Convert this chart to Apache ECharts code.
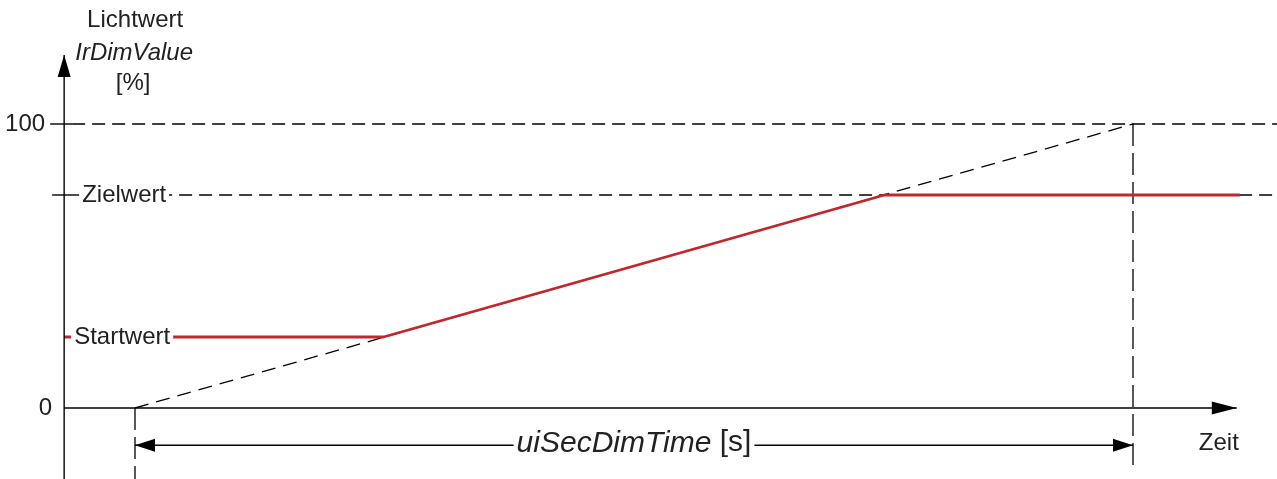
<!DOCTYPE html>
<html>
<head>
<meta charset="utf-8">
<script src="https://cdn.jsdelivr.net/npm/echarts@6/dist/echarts.min.js"></script>
<style>
html,body{margin:0;padding:0;background:#fff;}
#c{width:1277px;height:479px;}
</style>
</head>
<body>
<div id="c"></div>
<script>
// ---------- data ----------
const yTickValues = [0, 100];
const yTickLabels = ['0', '100'];
const levelNames = ['Startwert', 'Zielwert'];
const levelValues = [25, 75];
const redTimes = [-7.1, 24.9, 75.1, 110.7];
const redValues = [25, 25, 75, 75];
const rampTimes = [0, 100];
const rampValues = [0, 100];
const dimTime = 100;
const yTitle = ['Lichtwert', 'IrDimValue', '[%]'];
const xTitle = 'Zeit';
const dimLabel = 'uiSecDimTime';
const dimUnit = '[s]';

// ---------- layout ----------
const X_MIN = -13.527, X_MAX = 114.429, Y_MIN = -25, Y_MAX = 143.662;
const AXIS_X = -7.1;        // time where the value axis stands
const AXIS_X_END = 110.4;   // tip of the time axis arrow
const AXIS_Y_TOP = 124.3;   // tip of the value axis arrow
const DIM_Y = -13.1;        // level of the dimension line
const DIM_BOTTOM = -21.8;   // lower end of dashed guide at dimTime
const TEXT = '#222222';
const RED = '#c1272d';
const FONT = 'Liberation Sans, Arial, sans-serif';

const chart = echarts.init(document.getElementById('c'));

function headShape(api, tipV, fromV, len, hw) {
  const t = api.coord(tipV), f = api.coord(fromV);
  const dx = t[0] - f[0], dy = t[1] - f[1];
  const L = Math.hypot(dx, dy) || 1;
  const ux = dx / L, uy = dy / L;
  const bx = t[0] - ux * len, by = t[1] - uy * len;
  return {
    type: 'polygon',
    shape: { points: [[t[0], t[1]], [bx - uy * hw, by + ux * hw], [bx + uy * hw, by - ux * hw]] },
    style: { fill: '#000' }
  };
}

// arrows: [x1, y1, x2, y2, bothEnds]
const arrowData = [
  [AXIS_X, 0, AXIS_X_END, 0, 0],
  [AXIS_X, Y_MIN, AXIS_X, AXIS_Y_TOP, 0],
  [0, DIM_Y, dimTime, DIM_Y, 1]
];

// short solid ticks on the value axis
const tickData = [
  [AXIS_X - 1.4, 100, AXIS_X + 0.8, 100],
  [AXIS_X - 1.2, levelValues[1], AXIS_X + 1.5, levelValues[1]]
];

// text labels
const labels = [];
labels.push({ t: yTickLabels[1], at: [AXIS_X, yTickValues[1]], dx: -19, dy: 0, align: 'right' });
labels.push({ t: yTickLabels[0], at: [AXIS_X, yTickValues[0]], dx: -12, dy: 0, align: 'right' });
labels.push({ t: levelNames[0], at: [AXIS_X, levelValues[0]], dx: 58, dy: 0, align: 'center', bg: true });
labels.push({ t: levelNames[1], at: [AXIS_X, levelValues[1]], dx: 60, dy: 0, align: 'center', bg: true });
labels.push({ t: yTitle[0], at: [AXIS_X, AXIS_Y_TOP], dx: 71, dy: -35, align: 'center' });
labels.push({ t: yTitle[1], at: [AXIS_X, AXIS_Y_TOP], dx: 70, dy: -2, align: 'center', italic: true });
labels.push({ t: yTitle[2], at: [AXIS_X, AXIS_Y_TOP], dx: 69, dy: 28, align: 'center' });
labels.push({ t: xTitle, at: [AXIS_X_END, 0], dx: -18, dy: 35, align: 'center' });
labels.push({ t: '{i|' + dimLabel + '} ' + dimUnit, at: [dimTime / 2, DIM_Y], dx: 0, dy: -2, align: 'center', bg: true, size: 30, rich: true });

const dashH = [13, 7], dashV = [22, 7], dashD = [14, 8];

function lineSeries(data, color, width, dash, z) {
  return {
    type: 'line', data: data, showSymbol: false, symbol: 'none', silent: true,
    animation: false, z: z || 2, clip: false,
    lineStyle: { color: color, width: width, type: dash || 'solid' }
  };
}

const option = {
  backgroundColor: '#fff',
  animation: false,
  grid: { left: 0, right: 0, top: 0, bottom: 0 },
  xAxis: { type: 'value', min: X_MIN, max: X_MAX, show: false },
  yAxis: { type: 'value', min: Y_MIN, max: Y_MAX, show: false },
  series: [
    // dashed guides
    lineSeries([[AXIS_X + 0.8, 100], [X_MAX, 100]], '#000', 1.3, dashH, 1),
    lineSeries([[AXIS_X + 1.5, levelValues[1]], [X_MAX, levelValues[1]]], '#000', 1.3, dashH, 1),
    lineSeries(rampTimes.map((t, i) => [t, rampValues[i]]), '#000', 1.3, dashD, 1),
    lineSeries([[0, 0], [0, Y_MIN]], '#000', 1.3, dashV, 1),
    lineSeries([[dimTime, 100], [dimTime, DIM_BOTTOM]], '#000', 1.3, dashV, 1),
    // red dimming curve
    lineSeries(redTimes.map((t, i) => [t, redValues[i]]), RED, 2.8, 'solid', 3),
    // ticks
    {
      type: 'custom', silent: true, animation: false, z: 4,
      data: tickData,
      renderItem: function (params, api) {
        const p = api.coord([api.value(0), api.value(1)]);
        const q = api.coord([api.value(2), api.value(3)]);
        return { type: 'line', shape: { x1: p[0], y1: p[1], x2: q[0], y2: q[1] }, style: { stroke: '#000', lineWidth: 1.4 } };
      }
    },
    // arrows
    {
      type: 'custom', silent: true, animation: false, z: 4,
      data: arrowData,
      renderItem: function (params, api) {
        const a = [api.value(0), api.value(1)], b = [api.value(2), api.value(3)];
        const p = api.coord(a), q = api.coord(b);
        const kids = [
          { type: 'line', shape: { x1: p[0], y1: p[1], x2: q[0], y2: q[1] }, style: { stroke: '#000', lineWidth: 1.4 } }
        ];
        const both = api.value(4) === 1;
        const len = both ? 20 : (params.dataIndex === 1 ? 22 : 25);
        kids.push(headShape(api, b, a, len, 6.5));
        if (both) kids.push(headShape(api, a, b, len, 6.5));
        return { type: 'group', children: kids };
      }
    },
    // labels
    {
      type: 'custom', silent: true, animation: false, z: 6,
      data: labels.map(l => l.at),
      renderItem: function (params, api) {
        const l = labels[params.dataIndex];
        const p = api.coord([api.value(0), api.value(1)]);
        const size = l.size || 24;
        const style = {
          text: l.t,
          x: p[0] + l.dx, y: p[1] + l.dy,
          fill: TEXT,
          font: (l.italic ? 'italic ' : '') + size + 'px ' + FONT,
          align: l.align, verticalAlign: 'middle'
        };
        if (l.bg) { style.backgroundColor = '#fff'; style.padding = [0, 3]; }
        if (l.rich) { style.rich = { i: { fontStyle: 'italic', fontSize: size, fontFamily: FONT, fill: TEXT } }; }
        return { type: 'text', style: style };
      }
    }
  ]
};
chart.setOption(option);
</script>
</body>
</html>
